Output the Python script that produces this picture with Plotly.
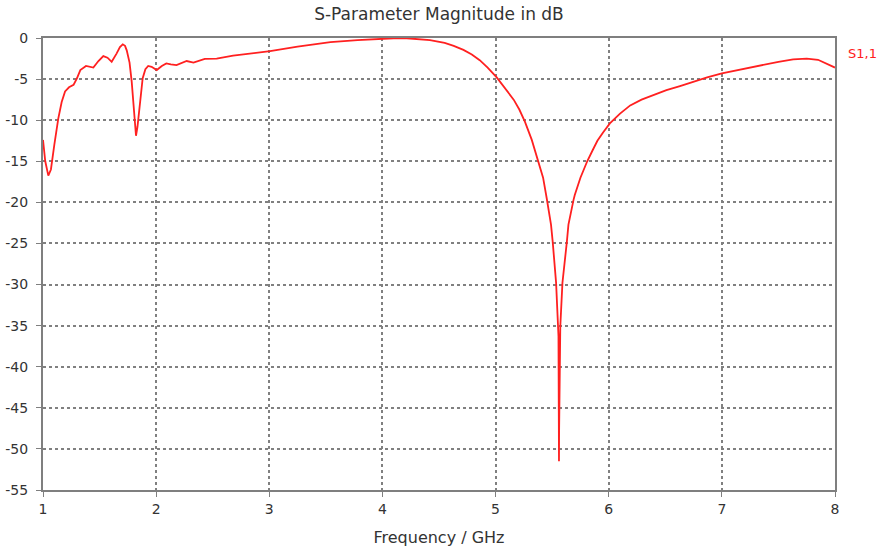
import plotly.graph_objects as go

# S11 magnitude sweep (GHz, dB)
freq_ghz = [
    1.000, 1.020, 1.047, 1.070, 1.100, 1.135, 1.165, 1.195, 1.230, 1.270,
    1.300, 1.330, 1.380, 1.445, 1.490, 1.533, 1.570, 1.607, 1.650, 1.680,
    1.705, 1.725, 1.740, 1.765, 1.784, 1.800, 1.822, 1.835, 1.852, 1.865,
    1.881, 1.905, 1.930, 1.960, 2.005, 2.050, 2.090, 2.130, 2.180, 2.270,
    2.330, 2.430, 2.535, 2.680, 2.800, 3.007, 3.250, 3.540, 3.780, 3.980,
    4.100, 4.215, 4.320, 4.420, 4.550, 4.630, 4.716, 4.790, 4.860, 4.930,
    5.010, 5.080, 5.160, 5.210, 5.260, 5.320, 5.380, 5.420, 5.452, 5.490,
    5.505, 5.535, 5.556, 5.5605, 5.5615, 5.572, 5.591, 5.630, 5.644, 5.689,
    5.700, 5.750, 5.810, 5.860, 5.900, 5.950, 6.010, 6.100, 6.190, 6.290,
    6.400, 6.510, 6.630, 6.750, 6.870, 7.000, 7.170, 7.340, 7.500, 7.630,
    7.750, 7.850, 7.930, 8.000,
]
s11_db = [
    -12.4, -15.0, -16.75, -16.0, -13.0, -9.8, -7.8, -6.5, -6.0, -5.7,
    -4.9, -3.9, -3.4, -3.6, -2.8, -2.2, -2.4, -2.9, -1.9, -1.1,
    -0.77, -0.95, -1.5, -3.0, -5.3, -8.0, -11.9, -10.8, -8.6, -6.5,
    -4.9, -3.8, -3.4, -3.5, -3.9, -3.4, -3.1, -3.2, -3.3, -2.8,
    -3.0, -2.55, -2.5, -2.15, -1.95, -1.6, -1.05, -0.5, -0.25, -0.1,
    -0.03, -0.03, -0.1, -0.25, -0.6, -0.95, -1.45, -2.0, -2.7, -3.6,
    -4.8, -6.0, -7.5, -8.7, -10.2, -12.4, -15.0, -17.0, -19.5, -22.7,
    -24.8, -29.8, -36.3, -51.5, -47.8, -35.1, -29.8, -24.8, -22.7, -19.7,
    -19.1, -17.0, -15.0, -13.6, -12.5, -11.5, -10.4, -9.2, -8.2, -7.5,
    -6.9, -6.35, -5.85, -5.3, -4.8, -4.3, -3.8, -3.3, -2.9, -2.6,
    -2.5, -2.65, -3.2, -3.6,
]

x_ticks = [1, 2, 3, 4, 5, 6, 7, 8]
y_ticks = [0, -5, -10, -15, -20, -25, -30, -35, -40, -45, -50, -55]

trace_name = "S1,1"
line_color = "#ff2020"
frame_color = "#7f7f7f"
text_color = "#333333"
font_family = "Tahoma, Verdana, DejaVu Sans, sans-serif"

fig = go.Figure()
fig.add_trace(go.Scatter(
    x=freq_ghz, y=s11_db, mode="lines", name=trace_name,
    line=dict(color=line_color, width=1.8),
))

axis_common = dict(
    showline=True, linecolor=frame_color, linewidth=2, mirror=True,
    showgrid=True, gridcolor="#808080", griddash="dot", gridwidth=1.5,
    ticks="outside", ticklen=5, tickcolor=frame_color, tickwidth=1,
    zeroline=False, automargin=False,
    tickfont=dict(family=font_family, size=14, color=text_color),
)

fig.update_xaxes(
    range=[1, 8], tickvals=x_ticks, ticktext=[str(v) for v in x_ticks],
    title=dict(text="Frequency / GHz", standoff=16,
               font=dict(family=font_family, size=16, color=text_color)),
    **axis_common,
)
fig.update_yaxes(
    range=[-55, 0], tickvals=y_ticks, ticktext=[str(v) for v in y_ticks],
    ticklabelstandoff=5,
    **axis_common,
)

fig.add_annotation(
    x=1, xref="paper", xanchor="left", xshift=11,
    y=s11_db[-1] + 1.7, yref="y", yanchor="middle",
    text=trace_name, showarrow=False,
    font=dict(family=font_family, size=13, color=line_color),
)

fig.update_layout(
    width=882, height=553,
    margin=dict(l=43, r=47, t=38, b=63),
    paper_bgcolor="white", plot_bgcolor="white",
    showlegend=False,
    title=dict(text="S-Parameter Magnitude in dB", x=0.5, xref="paper",
               y=0.975, yanchor="middle",
               font=dict(family=font_family, size=17, color=text_color)),
)

fig.write_html("out.html")
